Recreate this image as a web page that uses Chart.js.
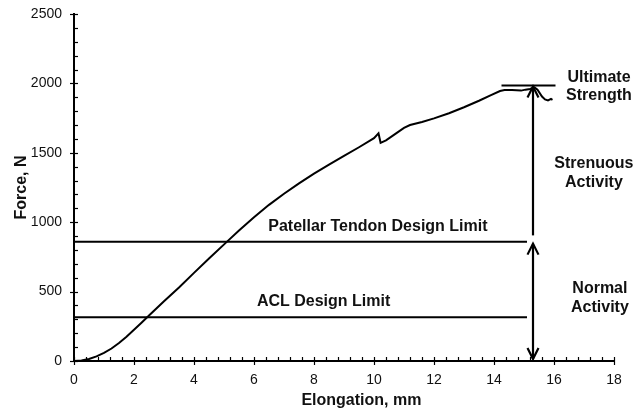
<!DOCTYPE html>
<html>
<head>
<meta charset="utf-8">
<script src="https://cdn.jsdelivr.net/npm/chart.js@4/dist/chart.umd.min.js"></script>
<style>
  html, body { margin: 0; padding: 0; background: #fff; }
  canvas { display: block; }
</style>
</head>
<body>
<canvas id="c" width="644" height="412"></canvas>
<script>
// Load–elongation curve of the graft (mm, N)
const elongation = [0, 0.25, 0.5, 0.75, 1.0, 1.25, 1.5, 1.75, 2.0, 2.25, 2.5, 3.0, 3.5, 4.0, 4.5, 5.11, 5.5, 6.0, 6.5, 7.0, 7.5, 8.0, 8.5, 9.0, 9.5, 10.0, 10.15, 10.22, 10.4, 10.7, 11.0, 11.2, 11.6, 12.0, 12.5, 13.0, 13.5, 13.9, 14.2, 14.35, 14.6, 14.9, 15.05, 15.2, 15.35, 15.45, 15.6, 15.7, 15.8, 15.9, 15.95];
const force      = [0, 4, 15, 33, 58, 90, 130, 175, 225, 276, 328, 430, 530, 635, 738, 862, 940, 1035, 1125, 1205, 1280, 1350, 1415, 1478, 1540, 1605, 1640, 1572, 1590, 1635, 1680, 1700, 1722, 1748, 1785, 1828, 1875, 1915, 1945, 1952, 1952, 1948, 1955, 1960, 1972, 1955, 1905, 1885, 1878, 1888, 1882];

// Axis tick labels
const xTicks = [0, 2, 4, 6, 8, 10, 12, 14, 16, 18];
const yTicks = [0, 500, 1000, 1500, 2000, 2500];

// Reference levels (N)
const aclLimit = 315;
const patellarLimit = 860;
const ultimateStrength = 1985;
const limitSpan = [0, 15.1];       // mm range of the design-limit lines
const ultimateSpan = [14.25, 16.05];

// Activity ranges shown by the vertical arrows (N)
const arrowAt = 15.3;
const strenuousRange = [905, 1985];
const normalRange = [0, 860];

// Annotation text, anchored in data units
const notes = [
  { lines: ['Patellar Tendon Design Limit'], x: 10.13, y: 965 },
  { lines: ['ACL Design Limit'], x: 8.32, y: 425 },
  { lines: ['Ultimate', 'Strength'], x: 17.5, y: 1978 },
  { lines: ['Strenuous', 'Activity'], x: 17.33, y: 1354 },
  { lines: ['Normal', 'Activity'], x: 17.53, y: 454 }
];

const FAMILY = '"Liberation Sans", Arial, Helvetica, sans-serif';
const INK = '#111';

const curve = elongation.map((v, i) => ({ x: v, y: force[i] }));
const hLine = (span, level) => span.map(v => ({ x: v, y: level }));

const lineStyle = {
  showLine: true, pointRadius: 0, borderColor: '#000', borderWidth: 2,
  fill: false, tension: 0
};

function arrowHead(ctx, x, tipY, dir) {
  // dir = -1 points up, +1 points down
  ctx.beginPath();
  ctx.moveTo(x - 5.5, tipY - dir * 11);
  ctx.lineTo(x, tipY);
  ctx.lineTo(x + 5.5, tipY - dir * 11);
  ctx.stroke();
}

const decorations = {
  id: 'decorations',
  afterDatasetsDraw(chart) {
    const { ctx, scales: { x, y } } = chart;
    const ax = x.getPixelForValue(arrowAt);
    ctx.save();
    ctx.strokeStyle = '#000';
    ctx.lineWidth = 2.2;
    ctx.lineJoin = 'miter';

    // strenuous activity arrow (head at the top)
    const sTop = y.getPixelForValue(strenuousRange[1]);
    const sBot = y.getPixelForValue(strenuousRange[0]);
    ctx.beginPath(); ctx.moveTo(ax, sBot); ctx.lineTo(ax, sTop + 1); ctx.stroke();
    arrowHead(ctx, ax, sTop + 1, -1);

    // normal activity arrow (heads at both ends)
    const nTop = y.getPixelForValue(normalRange[1]);
    const nBot = y.getPixelForValue(normalRange[0]);
    ctx.beginPath(); ctx.moveTo(ax, nBot - 2); ctx.lineTo(ax, nTop + 2); ctx.stroke();
    arrowHead(ctx, ax, nTop + 2, -1);
    arrowHead(ctx, ax, nBot - 2, 1);
    ctx.restore();
  },
  afterDraw(chart) {
    const { ctx, scales: { x, y } } = chart;
    const x0 = x.getPixelForValue(0);
    const y0 = y.getPixelForValue(0);
    ctx.save();
    ctx.strokeStyle = '#000';
    ctx.lineWidth = 1.2;

    // y-axis ticks: majors cross the axis, minors point inward
    for (let v = 0; v <= 2500; v += 100) {
      const py = Math.round(y.getPixelForValue(v)) + 0.5;
      const major = v % 500 === 0;
      ctx.beginPath();
      ctx.moveTo(major ? x0 - 4 : x0, py);
      ctx.lineTo(x0 + 4, py);
      ctx.stroke();
    }
    // x-axis ticks
    for (let i = 0; i <= 45; i++) {
      const v = i * 0.4;
      const px = Math.round(x.getPixelForValue(v)) + 0.5;
      const major = i % 5 === 0;
      ctx.beginPath();
      ctx.moveTo(px, y0 - 4);
      ctx.lineTo(px, major ? y0 + 4 : y0);
      ctx.stroke();
    }

    // annotation text
    ctx.fillStyle = INK;
    ctx.font = 'bold 16px ' + FAMILY;
    ctx.textAlign = 'center';
    ctx.textBaseline = 'middle';
    const lh = 18.5;
    notes.forEach(n => {
      const cx = x.getPixelForValue(n.x);
      const cy = y.getPixelForValue(n.y);
      const start = cy - (n.lines.length - 1) * lh / 2;
      n.lines.forEach((t, i) => ctx.fillText(t, cx, start + i * lh));
    });

    // x-axis title
    ctx.fillText('Elongation, mm', x.getPixelForValue(9.58), x.top + 40);
    ctx.restore();
  }
};

const plainTick = v => String(v);

new Chart(document.getElementById('c'), {
  type: 'scatter',
  data: {
    datasets: [
      { ...lineStyle, label: 'Graft', data: curve },
      { ...lineStyle, label: 'Ultimate Strength', data: hLine(ultimateSpan, ultimateStrength) },
      { ...lineStyle, label: 'Patellar Tendon Design Limit', data: hLine(limitSpan, patellarLimit) },
      { ...lineStyle, label: 'ACL Design Limit', data: hLine(limitSpan, aclLimit) }
    ]
  },
  options: {
    responsive: false,
    animation: false,
    devicePixelRatio: 1,
    layout: { padding: { top: 14, right: 30, left: 0, bottom: 0 } },
    plugins: { legend: { display: false }, tooltip: { enabled: false } },
    scales: {
      x: {
        type: 'linear', min: 0, max: 18,
        afterBuildTicks: s => { s.ticks = xTicks.map(v => ({ value: v })); },
        afterFit: s => { s.height = 51; s.paddingLeft = 6; s.paddingRight = 6; },
        grid: { display: false, drawTicks: false },
        border: { display: true, color: '#000', width: 2 },
        ticks: { padding: 11, color: INK, font: { family: FAMILY, size: 14 }, callback: plainTick }
      },
      y: {
        type: 'linear', min: 0, max: 2500,
        afterBuildTicks: s => { s.ticks = yTicks.map(v => ({ value: v })); },
        afterFit: s => { s.width = 74; s.paddingTop = 8; s.paddingBottom = 8; },
        grid: { display: false, drawTicks: false },
        border: { display: true, color: '#000', width: 2 },
        ticks: { padding: 12, color: INK, font: { family: FAMILY, size: 14 }, callback: plainTick },
        title: {
          display: true, text: 'Force, N', color: INK,
          font: { family: FAMILY, size: 16, weight: 'bold' },
          padding: { top: 12, bottom: 0 }
        }
      }
    }
  },
  plugins: [decorations]
});
</script>
</body>
</html>
